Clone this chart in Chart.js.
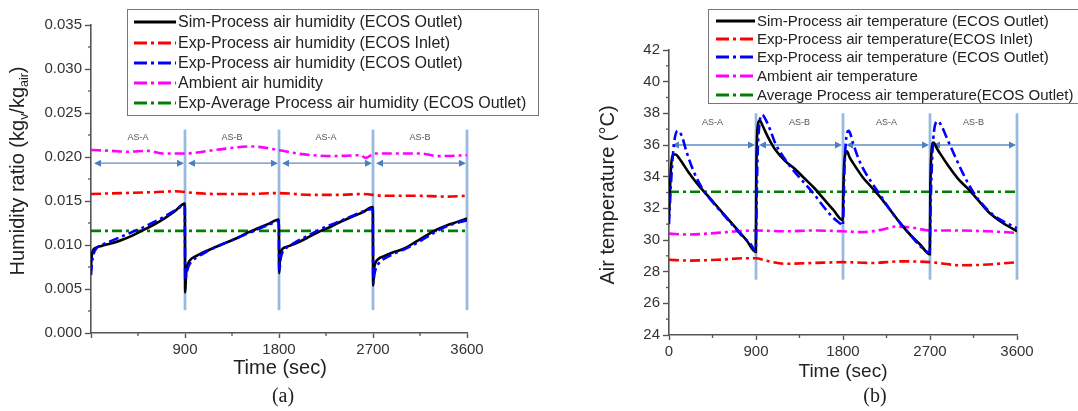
<!DOCTYPE html>
<html><head><meta charset="utf-8">
<script src="https://cdn.jsdelivr.net/npm/chart.js@4"></script>
<style>
html,body{margin:0;padding:0;background:#fff;}
body{width:1078px;height:411px;position:relative;overflow:hidden;}
canvas{position:absolute;top:0;}
#cL{left:0;width:540px;height:411px;}
#cR{left:540px;width:538px;height:411px;}
</style></head><body>
<canvas id="cL" width="540" height="411"></canvas>
<canvas id="cR" width="538" height="411"></canvas>
<script>
// ---------- DATA (a): humidity ratio ----------
const humSimTime = [0,8,20,50,100,200,300,400,500,600,700,800,898, 902,910,925,950,1000,1100,1200,1300,1400,1500,1600,1700,1798, 1802,1810,1825,1850,1900,2000,2100,2200,2300,2400,2500,2600,2698, 2702,2710,2725,2750,2800,2900,3000,3100,3200,3300,3400,3500,3600];
const humSim = [0.0076,0.0088,0.0094,0.0097,0.0099,0.0102,0.0106,0.0111,0.0117,0.0123,0.0130,0.0138,0.0147, 0.0046,0.0066,0.0077,0.0083,0.0087,0.0093,0.0098,0.0103,0.0108,0.0114,0.0119,0.0124,0.0129, 0.0068,0.0086,0.0094,0.0097,0.0099,0.0104,0.0110,0.0116,0.0121,0.0127,0.0132,0.0137,0.0143, 0.0054,0.0072,0.0080,0.0084,0.0087,0.0092,0.0096,0.0103,0.0110,0.0117,0.0122,0.0126,0.0130];
const humOutTime = [0,10,25,50,100,200,300,400,500,600,700,800,898, 902,915,935,960,1000,1100,1200,1300,1400,1500,1600,1700,1798, 1802,1815,1830,1860,1900,2000,2100,2200,2300,2400,2500,2600,2698, 2702,2715,2735,2760,2800,2900,3000,3100,3200,3300,3400,3500,3600];
const humOut = [0.0066,0.0080,0.0090,0.0096,0.0100,0.0105,0.0110,0.0115,0.0120,0.0126,0.0132,0.0139,0.0145, 0.0060,0.0068,0.0076,0.0081,0.0085,0.0092,0.0098,0.0103,0.0108,0.0113,0.0118,0.0123,0.0127, 0.0070,0.0084,0.0091,0.0096,0.0099,0.0106,0.0112,0.0118,0.0123,0.0128,0.0133,0.0138,0.0141, 0.0057,0.0068,0.0075,0.0080,0.0084,0.0090,0.0095,0.0101,0.0108,0.0115,0.0121,0.0125,0.0128];
const humInTime = [0,300,600,800,1000,1200,1500,1800,2100,2400,2600,2800,3100,3400,3600];
const humIn = [0.0158,0.0159,0.0160,0.0161,0.0159,0.0158,0.0158,0.0159,0.0157,0.0157,0.0158,0.0156,0.0156,0.0155,0.0156];
const humAmbTime = [0,200,350,550,690,900,1190,1530,1835,1970,2310,2580,2630,2715,3150,3320,3600];
const humAmb = [0.0208,0.0207,0.0206,0.0207,0.0204,0.0204,0.0208,0.0212,0.0207,0.0204,0.0201,0.0202,0.0199,0.0204,0.0204,0.0201,0.0202];
const humAvgTime = [0,3600];
const humAvg = [0.0116,0.0116];
const humLabels = ['Sim-Process air humidity (ECOS Outlet)','Exp-Process air humidity (ECOS Inlet)','Exp-Process air humidity (ECOS Outlet)','Ambient air humidity','Exp-Average Process air humidity (ECOS Outlet)'];
const humTicks = [0.000,0.005,0.010,0.015,0.020,0.025,0.030,0.035];

// ---------- DATA (b): air temperature ----------
const tSimTime = [0,20,50,70,100,200,300,400,500,600,700,800,898, 903,915,940,970,1000,1050,1100,1200,1300,1400,1500,1600,1700,1798, 1803,1815,1840,1870,1900,2000,2100,2200,2300,2400,2500,2600,2698, 2703,2715,2735,2770,2800,2900,3000,3100,3200,3300,3400,3500,3600];
const tSim = [31.5,34.5,35.4,35.4,35.2,34.3,33.5,32.8,32.1,31.4,30.7,30.0,29.25, 34.0,37.0,37.55,37.2,36.8,36.2,35.7,35.0,34.5,33.9,33.3,32.6,31.9,31.25, 33.0,35.0,35.6,35.2,34.9,34.0,33.3,32.6,31.8,31.0,30.3,29.7,29.1, 33.0,35.5,36.15,35.8,35.5,34.6,33.8,33.2,32.5,31.8,31.3,30.9,30.55];
const tOutTime = [0,20,50,90,130,180,250,350,450,550,650,750,850,898, 903,915,935,965,1000,1050,1100,1200,1300,1400,1500,1600,1700,1780,1798, 1803,1815,1835,1860,1900,1950,2000,2100,2200,2300,2400,2500,2600,2698, 2703,2715,2740,2780,2820,2870,2950,3050,3150,3250,3350,3450,3550,3600];
const tOut = [31.0,33.5,36.0,36.9,36.6,35.6,34.4,33.2,32.4,31.7,31.0,30.3,29.7,29.3, 31.0,35.0,37.3,37.9,37.6,36.9,36.1,35.1,34.3,33.6,32.9,32.1,31.4,31.0,30.9, 31.5,34.5,36.5,36.9,36.2,35.3,34.6,33.6,32.7,31.8,31.0,30.3,29.6,29.2, 31.0,34.0,36.8,37.5,37.2,36.5,35.4,34.1,33.0,32.2,31.6,31.2,30.9,30.75];
const tInTime = [0,200,500,800,900,1000,1200,1500,1800,2100,2400,2700,2850,3000,3300,3600];
const tIn = [28.75,28.7,28.75,28.85,28.85,28.7,28.5,28.55,28.6,28.55,28.65,28.6,28.5,28.4,28.45,28.6];
const tAmbTime = [0,200,500,700,900,1200,1500,1800,2000,2200,2350,2500,2700,3000,3300,3600];
const tAmb = [30.4,30.35,30.45,30.55,30.6,30.55,30.6,30.55,30.5,30.65,30.85,30.8,30.6,30.6,30.55,30.45];
const tAvgTime = [0,3600];
const tAvg = [33.05,33.05];
const tLabels = ['Sim-Process air temperature (ECOS Outlet)','Exp-Process air temperature(ECOS Inlet)','Exp-Process air temperature (ECOS Outlet)','Ambient air temperature','Average Process air temperature(ECOS Outlet)'];
const tTicks = [24,26,28,30,32,34,36,38,40,42];

// ---------- shared categories ----------
const timeTicks = [0,900,1800,2700,3600];
const phaseBounds = [0,900,1800,2700,3600];
const phaseNames = ['AS-A','AS-B','AS-A','AS-B'];

// ---------- styling ----------
const FONT = '"Liberation Sans", Arial, Helvetica, sans-serif';
const AXIS = '#555';
const COLORS = ['#000000','#ff0000','#0000ff','#ff00ff','#008000'];
const DASHDOT = [10,4,3,4];

function zip(t, v){ return t.map((x,i)=>({x:x, y:v[i]})); }

function makeDatasets(labels, series){
  return series.map((s,i)=>({
    label: labels[i],
    data: zip(s[0], s[1]),
    borderColor: COLORS[i],
    backgroundColor: COLORS[i],
    borderWidth: 2.6,
    borderDash: i===0 ? [] : DASHDOT,
    pointRadius: 0,
    cubicInterpolationMode: 'monotone',
    fill: false,
    order: i===2 ? 0 : (i===0 ? 1 : 2)
  }));
}

function drawArrowHead(ctx, x, y, dir){
  ctx.beginPath();
  ctx.moveTo(x, y);
  ctx.lineTo(x - dir*7, y - 3.5);
  ctx.lineTo(x - dir*7, y + 3.5);
  ctx.closePath();
  ctx.fill();
}

const deco = {
  id: 'deco',
  beforeDatasetsDraw(chart, args, o){
    const ctx = chart.ctx, x = chart.scales.x, y = chart.scales.y;
    ctx.save();
    ctx.strokeStyle = AXIS; ctx.lineWidth = 1.3;
    o.minorX.forEach(v=>{ const px = x.getPixelForValue(v); ctx.beginPath(); ctx.moveTo(px, y.bottom); ctx.lineTo(px, y.bottom+3); ctx.stroke(); });
    o.minorY.forEach(v=>{ const py = y.getPixelForValue(v); ctx.beginPath(); ctx.moveTo(x.left-3, py); ctx.lineTo(x.left, py); ctx.stroke(); });
    const yT = y.getPixelForValue(o.divTop), yB = y.getPixelForValue(o.divBottom);
    phaseBounds.slice(1).forEach(t=>{
      const px = x.getPixelForValue(t);
      ctx.strokeStyle = 'rgba(170,200,232,0.9)'; ctx.lineWidth = 3;
      ctx.beginPath(); ctx.moveTo(px, yT); ctx.lineTo(px, yB); ctx.stroke();
      ctx.strokeStyle = '#7ea6d8'; ctx.lineWidth = 1;
      ctx.beginPath(); ctx.moveTo(px, yT); ctx.lineTo(px, yB); ctx.stroke();
    });
    const ya = y.getPixelForValue(o.arrowY);
    ctx.strokeStyle = '#5b8cc8'; ctx.fillStyle = '#4a7fc0'; ctx.lineWidth = 1.4;
    for (let i=0;i<phaseNames.length;i++){
      const a = x.getPixelForValue(phaseBounds[i]) + 3;
      const b = x.getPixelForValue(phaseBounds[i+1]) - 1;
      ctx.beginPath(); ctx.moveTo(a+4, ya); ctx.lineTo(b-4, ya); ctx.stroke();
      drawArrowHead(ctx, a, ya, -1);
      drawArrowHead(ctx, b, ya, 1);
    }
    ctx.fillStyle = '#555'; ctx.font = '9px ' + FONT; ctx.textAlign = 'center'; ctx.textBaseline = 'middle';
    const yl = y.getPixelForValue(o.labelY);
    for (let i=0;i<phaseNames.length;i++){
      const cx = x.getPixelForValue((phaseBounds[i]+phaseBounds[i+1])/2);
      ctx.fillText(phaseNames[i], cx, yl);
    }
    ctx.restore();
  },
  afterDraw(chart, args, o){
    const ctx = chart.ctx;
    ctx.save();
    const L = o.legend;
    ctx.strokeStyle = '#777'; ctx.lineWidth = 1;
    ctx.strokeRect(L.x+0.5, L.y+0.5, L.w, L.h);
    ctx.font = L.font + 'px ' + FONT; ctx.textBaseline = 'middle'; ctx.textAlign = 'left';
    chart.data.datasets.forEach((d,i)=>{
      const ry = L.rowY[i];
      ctx.strokeStyle = d.borderColor; ctx.lineWidth = 3;
      ctx.setLineDash(i===0 ? [] : [13,4,3,4]);
      ctx.beginPath(); ctx.moveTo(L.sx1, ry); ctx.lineTo(L.sx2, ry); ctx.stroke();
      ctx.setLineDash([]);
      ctx.fillStyle = '#222';
      ctx.fillText(d.label, L.tx, ry + 1);
    });
    ctx.fillStyle = '#222'; ctx.textAlign = 'center'; ctx.textBaseline = 'middle';
    ctx.font = o.xTitle.size + 'px ' + FONT;
    ctx.fillText(o.xTitle.text, o.xTitle.x, o.xTitle.y);
    ctx.font = '20px "Liberation Serif", "Times New Roman", serif';
    ctx.fillText(o.caption.text, o.caption.x, o.caption.y);
    const T = o.yTitle;
    ctx.translate(T.x, T.y); ctx.rotate(-Math.PI/2);
    let total = 0;
    T.parts.forEach(p=>{ ctx.font = (p.sub ? T.size*0.62 : T.size) + 'px ' + FONT; total += ctx.measureText(p.t).width; });
    let cx = -total/2;
    ctx.textAlign = 'left'; ctx.textBaseline = 'middle';
    T.parts.forEach(p=>{
      ctx.font = (p.sub ? T.size*0.62 : T.size) + 'px ' + FONT;
      ctx.fillText(p.t, cx, p.sub ? T.size*0.35 : 0);
      cx += ctx.measureText(p.t).width;
    });
    ctx.restore();
  }
};

function baseScales(yMin, yMax, yStep, yFmt, yWidth, showZero){
  return {
    x: {
      type: 'linear', min: 0, max: 3600,
      afterBuildTicks: s => { s.ticks = timeTicks.map(v=>({value:v})); },
      ticks: { color:'#333', font:{size:15, family:FONT}, padding:3, maxRotation:0, autoSkip:false,
               callback: v => (v===0 && !showZero) ? '' : String(v) },
      grid: { drawOnChartArea:false, drawTicks:true, tickLength:5, tickColor:AXIS, tickWidth:1.4 },
      border: { color:AXIS, width:1.6 },
      afterFit: s => { s.height = 30; }
    },
    y: {
      type: 'linear', min: yMin, max: yMax,
      ticks: { stepSize: yStep, color:'#333', font:{size:15, family:FONT}, padding:3, callback: yFmt },
      grid: { drawOnChartArea:false, drawTicks:true, tickLength:6, tickColor:AXIS, tickWidth:1.4 },
      border: { color:AXIS, width:1.6 },
      afterFit: s => { s.width = yWidth; }
    }
  };
}

Chart.defaults.font.family = FONT;

new Chart(document.getElementById('cL'), {
  type: 'line',
  data: { datasets: makeDatasets(humLabels, [[humSimTime,humSim],[humInTime,humIn],[humOutTime,humOut],[humAmbTime,humAmb],[humAvgTime,humAvg]]) },
  options: {
    responsive:false, animation:false, devicePixelRatio:1,
    layout: { padding: { left:0, right:73, top:25, bottom:48 } },
    scales: (()=>{ const s = baseScales(humTicks[0], humTicks[humTicks.length-1], 0.005, v => Number(v).toFixed(3), 91, false);
                   s.y.afterBuildTicks = sc => { sc.ticks = humTicks.map(v=>({value:v})); }; return s; })(),
    plugins: {
      legend:{display:false}, tooltip:{enabled:false},
      deco: {
        minorX:[450,1350,2250,3150],
        minorY:[0.0025,0.0075,0.0125,0.0175,0.0225,0.0275,0.0325],
        divTop:0.0231, divBottom:0.0026, arrowY:0.0193, labelY:0.0222,
        legend:{ x:127, y:9, w:411, h:106, rowY:[22,43,63,83,103], sx1:134, sx2:176, tx:178, font:16 },
        xTitle:{ text:'Time (sec)', x:280, y:368, size:20 },
        caption:{ text:'(a)', x:283, y:397 },
        yTitle:{ x:18, y:171, size:20, parts:[{t:'Humidity ratio (kg'},{t:'v',sub:true},{t:'/kg'},{t:'air',sub:true},{t:')'}] }
      }
    }
  },
  plugins:[deco]
});

new Chart(document.getElementById('cR'), {
  type: 'line',
  data: { datasets: makeDatasets(tLabels, [[tSimTime,tSim],[tInTime,tIn],[tOutTime,tOut],[tAmbTime,tAmb],[tAvgTime,tAvg]]) },
  options: {
    responsive:false, animation:false, devicePixelRatio:1,
    layout: { padding: { left:0, right:61, top:50, bottom:46 } },
    scales: (()=>{ const s = baseScales(tTicks[0], tTicks[tTicks.length-1], 2, v => String(v), 129, true);
                   s.y.afterBuildTicks = sc => { sc.ticks = tTicks.map(v=>({value:v})); }; return s; })(),
    plugins: {
      legend:{display:false}, tooltip:{enabled:false},
      deco: {
        minorX:[450,1350,2250,3150],
        minorY:[25,27,29,31,33,35,37,39,41],
        divTop:38.0, divBottom:27.5, arrowY:36.0, labelY:37.4,
        legend:{ x:168, y:9, w:400, h:94, rowY:[21,39,57,76,95], sx1:176, sx2:215, tx:217, font:15 },
        xTitle:{ text:'Time (sec)', x:303, y:372, size:19 },
        caption:{ text:'(b)', x:335, y:397 },
        yTitle:{ x:68, y:195, size:20, parts:[{t:'Air temperature (°C)'}] }
      }
    }
  },
  plugins:[deco]
});
</script>
</body></html>
